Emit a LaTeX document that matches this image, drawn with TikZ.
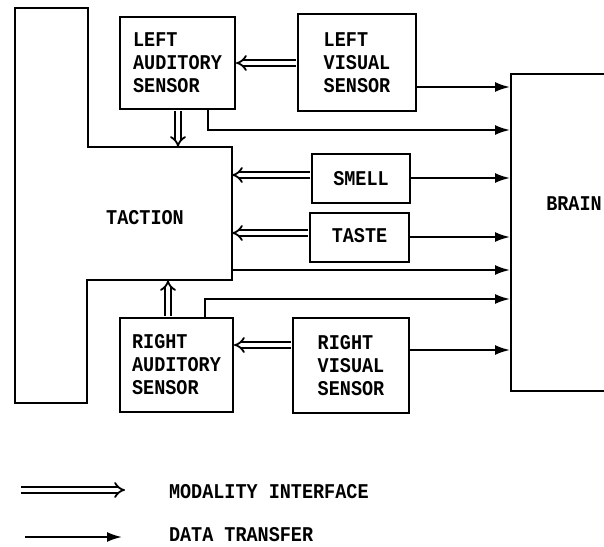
\documentclass[tikz,border=0pt]{standalone}
\usepackage{fontspec}
\newfontfamily\typew[FakeStretch=0.88]{Liberation Mono}
\usetikzlibrary{arrows.meta,positioning}
\tikzset{
  sensor/.style={draw, line width=2pt, inner sep=0pt, align=left},
  modal/.style={double, double distance=3.5pt, line width=1.8pt, shorten <=1pt, -{Implies[length=8pt,width=17pt]}},
  data/.style={line width=2pt, -{Latex[length=15pt,width=10pt]}}
}
\begin{document}
\begin{tikzpicture}[x=1pt, y=-1pt, line width=2pt, font=\typew\bfseries\fontsize{21}{23}\selectfont]
  \useasboundingbox (0,0) rectangle (604,546);
  \draw (15,8) -- (88,8) -- (88,147) -- (232,147) -- (232,280) -- (87,280) -- (87,403) -- (15,403) -- cycle;
  \node (taction) at (145,218) {TACTION};
  \node[sensor, minimum width=115pt, minimum height=92pt] (las) at (177.5,63) {LEFT\\AUDITORY\\SENSOR};
  \node[sensor, minimum width=118pt, minimum height=97pt] (lvs) at (357,62.5) {LEFT\\VISUAL\\SENSOR};
  \node[sensor, minimum width=98pt, minimum height=49pt] (smell) at (361,178.5) {SMELL};
  \node[sensor, minimum width=99pt, minimum height=49pt] (taste) at (359.5,237.5) {\raisebox{5pt}{TASTE}};
  \node[sensor, minimum width=113pt, minimum height=94pt] (ras) at (176.5,365) {RIGHT\\AUDITORY\\SENSOR};
  \node[sensor, minimum width=116pt, minimum height=95pt] (rvs) at (351,365.5) {RIGHT\\VISUAL\\SENSOR};
  \node[draw, minimum width=140pt, minimum height=317pt, anchor=north west] (brain) at (510,73) {};
  \node (brainlbl) at (574,204) {BRAIN};
  \draw[modal] (lvs.west |- 0,63) -- (las.east |- 0,63);
  \draw[modal] (las.south -| 178,0) -- (178,147);
  \draw[modal] (smell.west |- 0,175) -- (232,175);
  \draw[modal] (taste.west |- 0,233) -- (232,233);
  \draw[modal] (ras.north -| 168,0) -- (168,280);
  \draw[modal] (rvs.west |- 0,345) -- (ras.east |- 0,345);
  \draw[data] (lvs.east |- 0,87) -- (brain.west |- 0,87);
  \draw[data] (las.south -| 208,0) -- (208,130) -- (brain.west |- 0,130);
  \draw[data] (smell.east |- 0,178) -- (brain.west |- 0,178);
  \draw[data] (taste.east |- 0,237) -- (brain.west |- 0,237);
  \draw[data] (232,270) -- (brain.west |- 0,270);
  \draw[data] (ras.north -| 205,0) -- (205,299) -- (brain.west |- 0,299);
  \draw[data] (rvs.east |- 0,350) -- (brain.west |- 0,350);
  \coordinate (m1) at (20,490); \coordinate (m2) at (125,490);
  \coordinate (d1) at (25,537); \coordinate (d2) at (122,537);
  \draw[modal] (m1) -- (m2);
  \draw[data] (d1) -- (d2);
  \node[anchor=west, inner sep=0pt] (mlbl) at (168,492) {MODALITY INTERFACE};
  \node[anchor=west, inner sep=0pt] (dlbl) at (168,535) {DATA TRANSFER};
\end{tikzpicture}
\end{document}
